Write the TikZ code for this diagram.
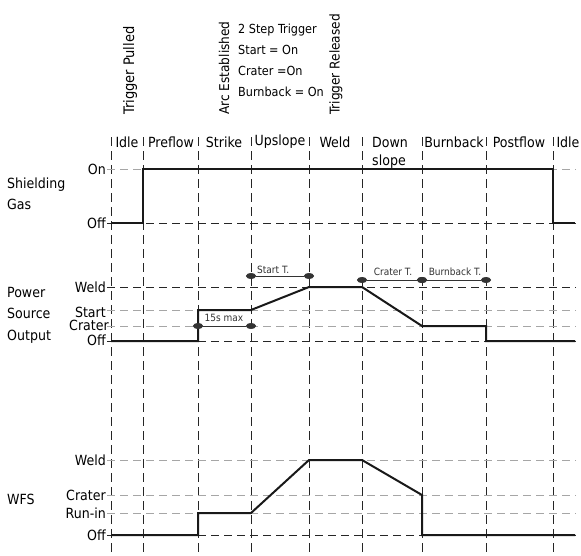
\documentclass[tikz,border=0pt]{standalone}
\usepackage{fontspec}
\setmainfont{DejaVu Sans Condensed}
\usetikzlibrary{arrows.meta}
\begin{document}
\begin{tikzpicture}[x=1pt,y=-1pt,
  hgrid/.style={dash pattern=on 8pt off 5pt, gray!70, line width=0.9pt},
  hgridd/.style={dash pattern=on 8pt off 5pt, black!85, line width=0.8pt},
  vgrid/.style={dash pattern=on 9pt off 5pt, black!85, line width=0.8pt},
  signal/.style={line width=2pt, black!90, line join=miter},
  dimline/.style={line width=0.6pt, black!80, {Ellipse[length=10pt,width=6pt]}-{Ellipse[length=10pt,width=6pt]}},
  lab/.style={font=\fontsize{14}{16}\selectfont, inner sep=1pt},
  ylab/.style={lab, anchor=east},
  small/.style={font=\fontsize{10}{11}\selectfont, inner sep=1pt, text=black!80}]
\useasboundingbox (0,0) rectangle (581,555);

% vertical grid lines
\foreach \x [count=\i] in {111,143,198,251,309,362,422,486,553}{
  \coordinate (vt\i) at (\x,137);
  \coordinate (vb\i) at (\x,555);
  \draw[vgrid] (vt\i) -- (vb\i);
}

% horizontal grid lines
\foreach \y/\n/\s in {169/gon/hgrid,223/goff/hgridd,287/pweld/hgridd,310/pstart/hgrid,326/pcrater/hgrid,341/poff/hgridd,460/wweld/hgrid,495/wcrater/hgrid,513/wrun/hgrid,535/woff/hgridd}{
  \coordinate (\n L) at (107,\y);
  \coordinate (\n R) at (576,\y);
  \draw[\s] (\n L) -- (\n R);
}

% top labels
\node[lab, rotate=90, anchor=west, font=\fontsize{14.5}{16}\selectfont] (tp) at (130,116) {Trigger Pulled};
\node[lab, rotate=90, anchor=west, font=\fontsize{13.5}{16}\selectfont] (ae) at (224,116) {Arc Established};
\node[lab, rotate=90, anchor=west, font=\fontsize{13.5}{16}\selectfont] (tr) at (336,116) {Trigger Released};
\node[lab, anchor=north west, align=left, font=\fontsize{12.5}{21}\selectfont] (st) at (237,23) {2 Step Trigger\\Start = On\\Crater =On\\Burnback = On};

% phase labels
\node[lab] (p1) at (127,142) {Idle};
\node[lab] (p2) at (171,142) {Preflow};
\node[lab] (p3) at (224,142) {Strike};
\node[lab] (p4) at (280,142) {Upslope};
\node[lab] (p5) at (335,142) {Weld};
\node[lab] (p6) at (390,142) {Down};
\node[lab] (p6b) at (389,162) {slope};
\node[lab] (p7) at (454,142) {Burnback};
\node[lab] (p8) at (519,142) {Postflow};
\node[lab] (p9) at (568,142) {Idle};

% left labels
\node[lab, anchor=west, align=left, font=\fontsize{14}{21}\selectfont] (sg) at (6,194) {Shielding\\Gas};
\node[lab, anchor=west, align=left, font=\fontsize{14}{21.5}\selectfont] (ps) at (6,315) {Power\\Source\\Output};
\node[lab, anchor=west] (wfs) at (6,499) {WFS};

% y labels
\node[ylab] (yon) at (gonL) {On};
\node[ylab] (yoff) at (goffL) {Off};
\node[ylab] (ypw) at (pweldL) {Weld};
\node[ylab] (yps) at ([yshift=-2]pstartL) {Start};
\node[ylab] (ypc) at ([yshift=1,xshift=3]pcraterL) {Crater};
\node[ylab] (ypo) at ([yshift=1]poffL) {Off};
\node[ylab] (yww) at (wweldL) {Weld};
\node[ylab] (ywc) at (wcraterL) {Crater};
\node[ylab] (ywr) at (wrunL) {Run-in};
\node[ylab] (ywo) at (woffL) {Off};

% signals
\draw[signal] (111,223) -- (143,223) -- (143,169) -- (553,169) -- (553,223) -- (575,223);
\draw[signal] (111,341) -- (198,341) -- (198,310) -- (251,310) -- (309,287) -- (362,287) -- (422,326) -- (486,326) -- (486,341) -- (575,341);
\draw[signal] (111,535) -- (198,535) -- (198,513) -- (251,513) -- (309,460) -- (362,460) -- (422,495) -- (422,535) -- (575,535);

% timing dimensions
\coordinate (sa) at (246,276); \coordinate (sb) at (314,276);
\draw[dimline] (sa) -- (sb);
\node[small, anchor=south west] (stl) at (256,275) {Start T.};
\coordinate (ca) at (357,280); \coordinate (cb) at (427,280);
\draw[dimline] (ca) -- (cb);
\node[small] (ctl) at (393,272) {Crater T.};
\coordinate (ba) at (417,280); \coordinate (bb) at (491,280);
\draw[dimline] (ba) -- (bb);
\node[small] (btl) at (455,272) {Burnback T.};
\coordinate (ma) at (193,326); \coordinate (mb) at (256,326);
\draw[dimline] (ma) -- (mb);
\node[small] (mtl) at (224,318) {15s max};
\end{tikzpicture}
\end{document}
